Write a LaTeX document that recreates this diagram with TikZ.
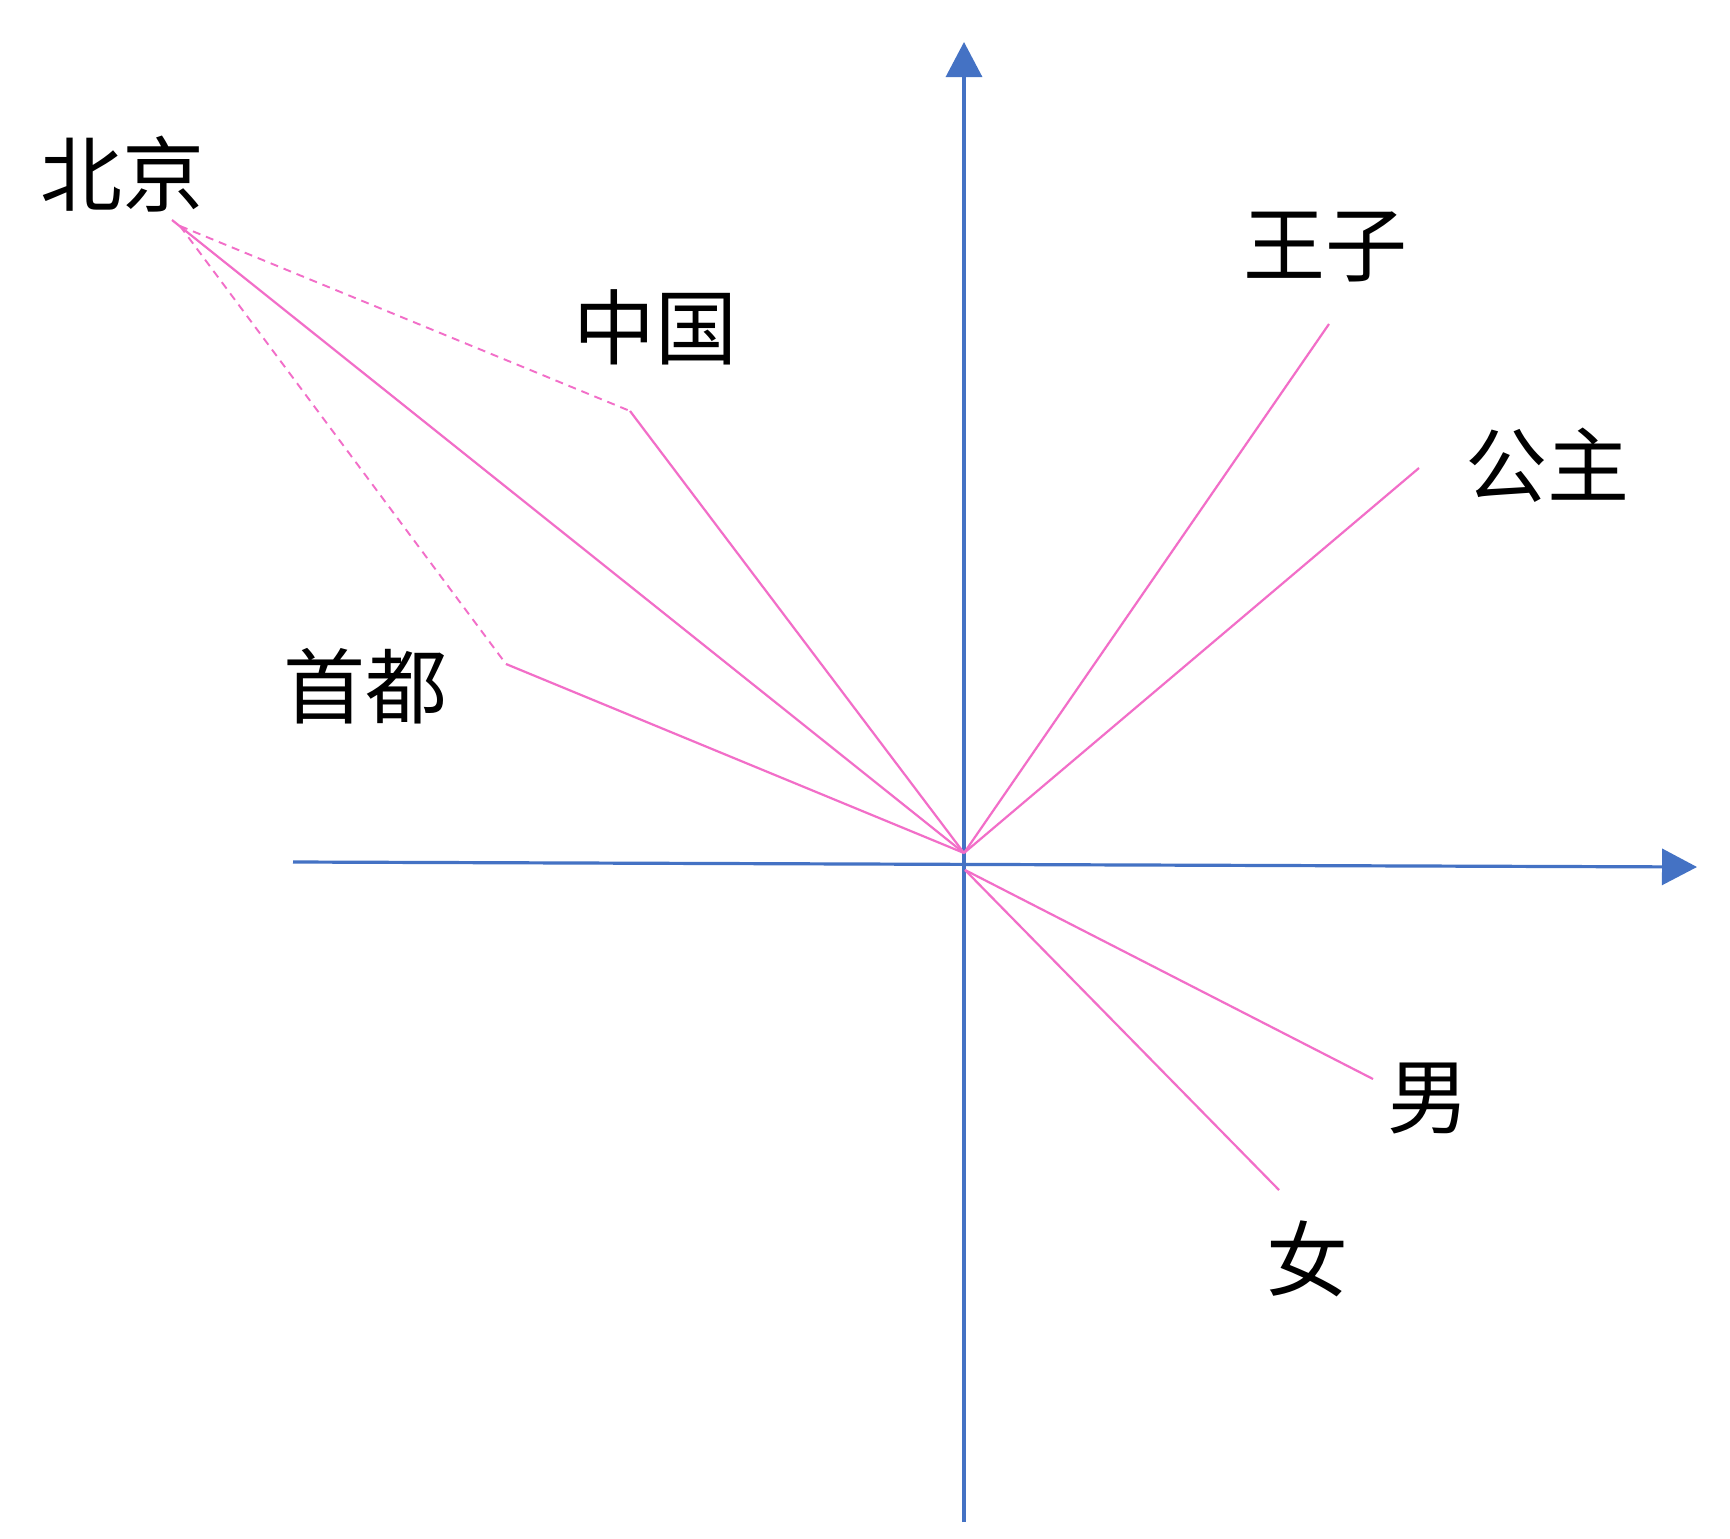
\documentclass[tikz,border=0pt]{standalone}
\usepackage{fontspec}
\newfontfamily\cjk{Noto Sans CJK SC}
\usetikzlibrary{arrows.meta}
\definecolor{axisblue}{RGB}{68,114,196}
\definecolor{vecpink}{RGB}{242,110,200}
\begin{document}
\begin{tikzpicture}[x=1pt,y=-1pt,
  axisline/.style={draw=axisblue,line width=3.2pt,-{Triangle[width=36pt,length=35pt]}},
  vecline/.style={draw=vecpink,line width=2.2pt},
  dashvec/.style={draw=vecpink,line width=1.9pt,dash pattern=on 8pt off 6pt},
  word/.style={font=\cjk\fontsize{82}{98}\selectfont,inner sep=0pt,text=black}]
\useasboundingbox (0,0) rectangle (1730,1539);
\fill[white] (0,0) rectangle (1730,1539);
% axes
\coordinate (xl) at (293,862);
\coordinate (xr) at (1697,867);
\coordinate (yb) at (964,1522);
\coordinate (yt) at (964,42);
\draw[axisline] (xl) -- (xr);
\draw[axisline] (yb) -- (yt);
% origins
\coordinate (o1) at (964,853);
\coordinate (o2) at (965,870);
% vector end points
\coordinate (bj) at (172,220);
\coordinate (zg) at (630,411);
\coordinate (sd) at (506,664);
\coordinate (wz) at (1329,324);
\coordinate (gz) at (1419,468);
\coordinate (nan) at (1373,1079);
\coordinate (nv) at (1279,1190);
\coordinate (bj2) at (180,226);
% vectors
\draw[vecline] (o1) -- (bj);
\draw[vecline] (o1) -- (zg);
\draw[vecline] (o1) -- (sd);
\draw[vecline] (o1) -- (wz);
\draw[vecline] (o1) -- (gz);
\draw[vecline] (o2) -- (nan);
\draw[vecline] (o2) -- (nv);
\draw[dashvec] (bj2) -- (zg);
\draw[dashvec] (bj2) -- (sd);
% labels
\node[word] (lbj) at (122,174) {北京};
\node[word] (lzg) at (655,327) {中国};
\node[word] (lsd) at (365,686) {首都};
\node[word] (lwz) at (1325,247) {王子};
\node[word] (lgz) at (1547,465) {公主};
\node[word] (lnan) at (1428,1099) {男};
\node[word] (lnv) at (1307,1259) {女};
\end{tikzpicture}
\end{document}
